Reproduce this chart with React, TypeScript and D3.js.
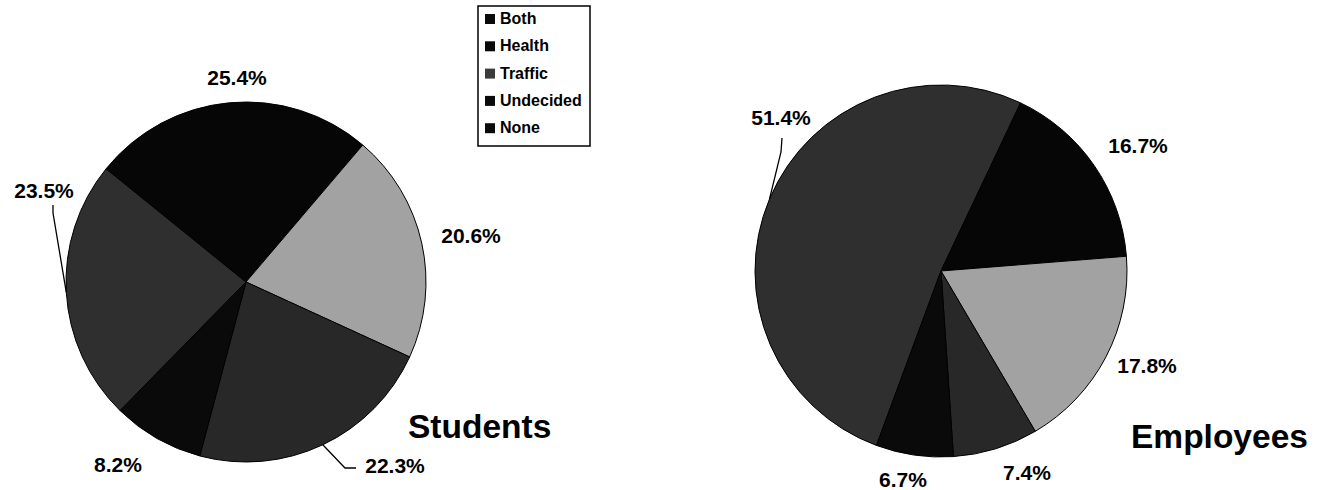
import React, { useEffect, useRef } from "react";
import * as d3 from "d3";

// answers, in legend order
const categories = ["Both", "Health", "Traffic", "Undecided", "None"];
const studentValues = [23.5, 25.4, 20.6, 22.3, 8.2];
const employeeValues = [51.4, 16.7, 17.8, 7.4, 6.7];

// scanned greys
const fills = ["#2f2f2f", "#060606", "#a2a2a2", "#282828", "#0a0a0a"];

// where each pie sits, and where Excel put the labels (relative to centre)
const pies = [
  {
    title: "Students",
    values: studentValues,
    cx: 246,
    cy: 282,
    r: 180,
    start: 224.4,
    labels: [[-202, -84], [-9, -197], [225, -39], [149, 191], [-128, 190]],
    leaders: [[[9, 15], [9, 7]], null, null, [[-50, -5], [-39, -5]], null],
    titleX: 408,
    titleY: 438,
  },
  {
    title: "Employees",
    values: employeeValues,
    cx: 941,
    cy: 271,
    r: 186,
    start: 200.3,
    labels: [[-160, -146], [197, -118], [206, 102], [86, 209], [-38, 216]],
    leaders: [[[0, 27], [1, 13]], null, null, null, null],
    titleX: 1131,
    titleY: 448,
  },
];

export default function App() {
  const ref = useRef(null);

  useEffect(() => {
    document.body.style.margin = "0";
    const svg = d3.select(ref.current);
    svg.selectAll("*").remove();

    const font = "'Liberation Sans', Arial, sans-serif";
    const color = d3.scaleOrdinal().domain(categories).range(fills);

    pies.forEach((p) => {
      const rad = (p.start * Math.PI) / 180;
      const pie = d3
        .pie()
        .sort(null)
        .value((d) => d.value)
        .startAngle(rad)
        .endAngle(rad + 2 * Math.PI);
      const arcs = pie(categories.map((c, i) => ({ key: c, value: p.values[i] })));
      const arc = d3.arc().innerRadius(0).outerRadius(p.r);

      const g = svg.append("g").attr("transform", `translate(${p.cx},${p.cy})`);

      g.selectAll("path.slice")
        .data(arcs)
        .join("path")
        .attr("class", "slice")
        .attr("d", arc)
        .attr("fill", (d) => color(d.data.key))
        .attr("stroke", "#000")
        .attr("stroke-width", 1);

      // leader lines from the rim at the slice middle
      arcs.forEach((d, i) => {
        const leg = p.leaders[i];
        if (!leg) return;
        const mid = (d.startAngle + d.endAngle) / 2;
        const [lx, ly] = p.labels[i];
        const pts = [[p.r * Math.sin(mid), -p.r * Math.cos(mid)]].concat(
          leg.map(([ox, oy]) => [lx + ox, ly + oy])
        );
        g.append("path")
          .attr("d", d3.line()(pts))
          .attr("fill", "none")
          .attr("stroke", "#000")
          .attr("stroke-width", 1.3);
      });

      g.selectAll("text.pct")
        .data(arcs)
        .join("text")
        .attr("class", "pct")
        .attr("x", (d, i) => p.labels[i][0])
        .attr("y", (d, i) => p.labels[i][1])
        .attr("text-anchor", "middle")
        .attr("font-family", font)
        .attr("font-weight", "bold")
        .attr("font-size", 21)
        .attr("fill", "#000")
        .text((d) => d.data.value.toFixed(1) + "%");

      svg
        .append("text")
        .attr("x", p.titleX)
        .attr("y", p.titleY)
        .attr("font-family", font)
        .attr("font-weight", "bold")
        .attr("font-size", 33.5)
        .attr("fill", "#000")
        .text(p.title);
    });

    // legend
    const legend = svg.append("g").attr("transform", "translate(478,6)");
    legend
      .append("rect")
      .attr("width", 112)
      .attr("height", 140)
      .attr("fill", "#fff")
      .attr("stroke", "#000")
      .attr("stroke-width", 1.5);
    const item = legend
      .selectAll("g.item")
      .data(categories)
      .join("g")
      .attr("class", "item")
      .attr("transform", (d, i) => `translate(0,${18 + i * 27.3})`);
    item
      .append("rect")
      .attr("x", 7)
      .attr("y", -10)
      .attr("width", 10)
      .attr("height", 10)
      .attr("fill", (d) => (d === "Traffic" ? "#3a3a3a" : "#0a0a0a"));
    item
      .append("text")
      .attr("x", 22)
      .attr("y", 0)
      .attr("font-family", font)
      .attr("font-weight", "bold")
      .attr("font-size", 16)
      .attr("fill", "#000")
      .text((d) => d);
  }, []);

  return <svg ref={ref} width={1324} height={490} style={{ display: "block", background: "#fff" }} />;
}
